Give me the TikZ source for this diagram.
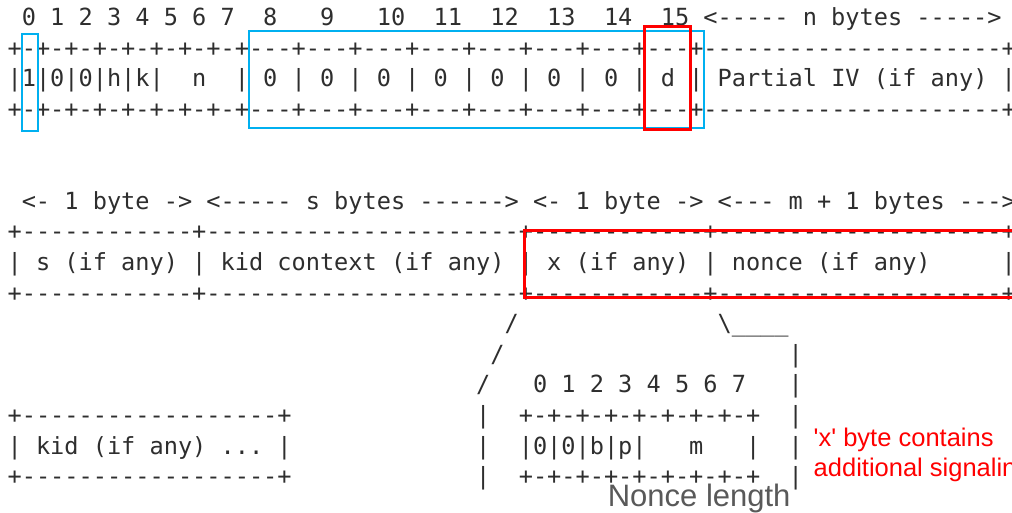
\documentclass[tikz,border=0pt]{standalone}
\usepackage{fontspec}
\setmonofont{DejaVu Sans Mono}
\newfontfamily\notefont{Liberation Sans}
\newcommand\asciifont{\ttfamily\fontsize{23.59}{28}\selectfont\frenchspacing}
\definecolor{asciigray}{HTML}{2E2E2E}
\definecolor{markblue}{HTML}{00B0F0}
\definecolor{markred}{HTML}{FF0000}
\definecolor{notegray}{HTML}{595959}

\begin{document}
\begin{tikzpicture}[x=14.2pt,y=-30.6pt,
    txt/.style={anchor=base west,inner sep=0pt,xshift=-7.1pt,yshift=-7.65pt,text=asciigray,font=\asciifont},
    note/.style={anchor=base west,inner sep=0pt,text=markred,font=\notefont\fontsize{25.5}{30}\selectfont},
    markb/.style={draw=markblue,line width=2.6pt},
    markr/.style={draw=markred,line width=3pt}]
        \useasboundingbox (-1.021,-0.588) rectangle (70.246,16.176);
        \fill[white] (-1.021,-0.588) rectangle (70.246,16.176);
        % header: flag byte, n byte, partial IV
        \node[txt] (bitnums) at (1,0) {0 1 2 3 4 5 6 7};
        \foreach \c/\b in {18/8,22/9,26/10,30/11,34/12,38/13,42/14}
            \node[txt] (byte\b) at (\c,0) {\b};
        \node[txt] (byte15) at (46,0) {15 <----- n bytes ----->};
        \foreach \r/\n in {1/hdrtop,3/hdrbot}
            \node[txt] (\n) at (0,\r) {+-+-+-+-+-+-+-+-+---+---+---+---+---+---+---+---+---------------------+};
        \node[txt] (flags) at (0,2) {|1|0|0|h|k|};
        \node[txt] (nfield) at (13,2) {n};
        \node[txt] (hdrbytes) at (16,2) {| 0 | 0 | 0 | 0 | 0 | 0 | 0 | d | Partial IV (if any) |};
        % kid context, x and nonce
        \node[txt] (sizes) at (1,6) {<- 1 byte -> <----- s bytes ------> <- 1 byte -> <--- m + 1 bytes --->};
        \foreach \r/\n in {7/kctop,9/kcbot}
            \node[txt] (\n) at (0,\r) {+------------+----------------------+------------+--------------------+};
        \node[txt] (kcfields) at (0,8) {| s (if any) | kid context (if any) | x (if any) | nonce (if any)};
        \node[txt] (kcend) at (70,8) {|};
        % zoom into the x byte
        \node[txt] (slasha) at (35,10) {/};
        \node[txt] (bend) at (50,10) {\textbackslash\_\_\_\_};
        \node[txt] (slashb) at (34,11) {/};
        \node[txt] (slashc) at (33,12) {/};
        \node[txt] (xbitnums) at (37,12) {0 1 2 3 4 5 6 7};
        \foreach \r in {11,...,15}
            \node[txt] (rbar\r) at (55,\r) {|};
        \foreach \r in {13,14,15}
            \node[txt] (lbar\r) at (33,\r) {|};
        \foreach \r/\n in {13/xtop,15/xbot}
            \node[txt] (\n) at (36,\r) {+-+-+-+-+-+-+-+-+};
        \node[txt] (xbits) at (36,14) {|0|0|b|p|};
        \node[txt] (mfield) at (48,14) {m};
        \node[txt] (xend) at (52,14) {|};
        % kid
        \foreach \r/\n in {13/kidtop,15/kidbot}
            \node[txt] (\n) at (0,\r) {+------------------+};
        \node[txt] (kid) at (0,14) {| kid (if any) ... |};
        % markings
        \draw[markb] (0.53,0.52) rectangle (1.66,3.69);
        \draw[markb] (16.51,0.43) rectangle (48.56,3.6);
        \draw[markr] (44.4,0.29) rectangle (47.57,3.63);
        \draw[markr] (35.95,6.96) rectangle (70.6,9.15);
        \node[note] (notea) at (56.27,14.01) {\textquotesingle x\textquotesingle{} byte contains};
        \node[note] (noteb) at (56.27,14.99) {additional signaling};
        \node[anchor=base west,inner sep=0pt,text=notegray,font=\notefont\fontsize{31}{36}\selectfont] (noncelen) at (41.77,15.95) {Nonce length};
    \end{tikzpicture}
\end{document}
